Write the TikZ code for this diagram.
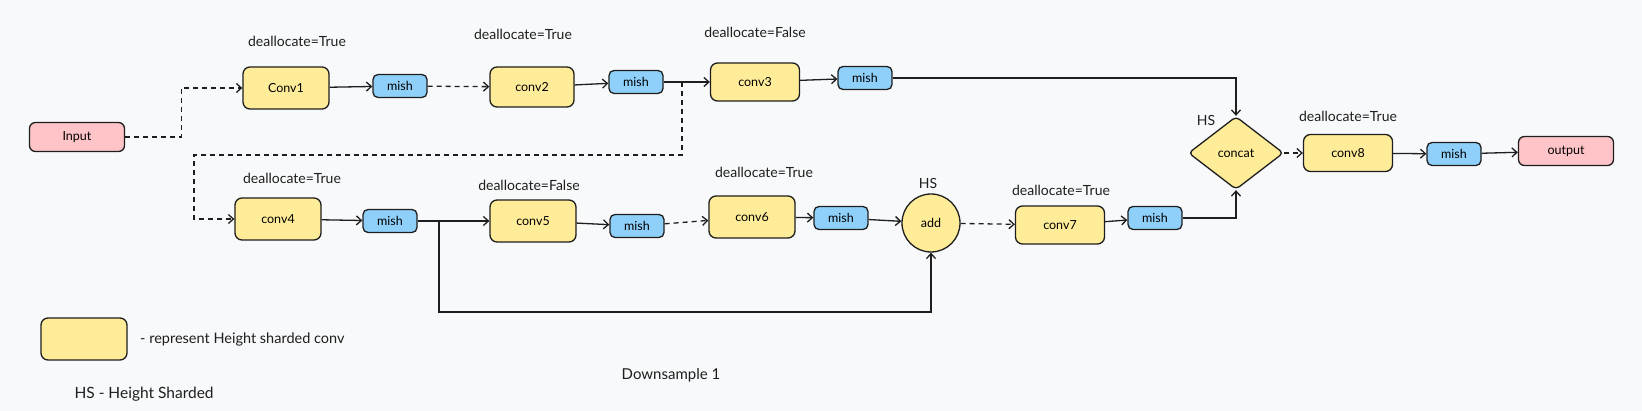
\documentclass[tikz,border=0pt]{standalone}
\usepackage{fontspec}
\setmainfont{Lato}
\usetikzlibrary{positioning}
\usetikzlibrary{shapes.geometric}
\usetikzlibrary{arrows.meta}
\definecolor{convfill}{HTML}{FFEC99}
\definecolor{mishfill}{HTML}{8FD0FA}
\definecolor{iofill}{HTML}{FFC4C8}
\definecolor{ink}{HTML}{1E1E1E}
\definecolor{paper}{HTML}{F8F9FA}

\begin{document}
\begin{tikzpicture}
    [
    x=1pt,y=-1pt,
    font=\fontsize{12.5}{15}\selectfont,
    conv/.style={rectangle,rounded corners=7pt,draw=ink,fill=convfill,line width=1.3pt,minimum width=86pt,minimum height=42pt},
    act/.style={rectangle,rounded corners=5pt,draw=ink,fill=mishfill,line width=1.3pt,minimum width=54pt,minimum height=23pt},
    io/.style={rectangle,rounded corners=6pt,draw=ink,fill=iofill,line width=1.3pt,minimum width=95pt,minimum height=29pt},
    merge/.style={diamond,rounded corners=4pt,draw=ink,fill=convfill,line width=1.3pt,inner sep=0pt,minimum width=95pt,minimum height=73pt},
    sum/.style={circle,draw=ink,fill=convfill,line width=1.3pt,inner sep=0pt,minimum size=58pt},
    note/.style={text=ink,font=\fontsize{14}{16}\selectfont},
    link/.style={draw=ink,line width=1.3pt,-{Straight Barb[length=5pt,width=9pt]}},
    dashlink/.style={link,dash pattern=on 5pt off 4pt},
    ]
    \fill [paper] (0,0) rectangle (1642,411);
    \useasboundingbox (0,0) rectangle (1642,411);

    % top row
    \node (input) at (77,137) [io] {Input};
    \node (conv1) at (286,88) [conv] {Conv1};
    \node (mish1) at (400,86) [act] {mish};
    \node (conv2) at (532,87) [conv,minimum width=84pt,minimum height=40pt] {conv2};
    \node (mish2) at (636,82) [act] {mish};
    \node (conv3) at (755,82) [conv,minimum width=89pt,minimum height=38pt] {conv3};
    \node (mish3) at (865,78) [act] {mish};

    \node (dealloc1) at (297,41) [note] {deallocate=True};
    \node (dealloc2) at (523,34) [note] {deallocate=True};
    \node (dealloc3) at (755,32) [note] {deallocate=False};

    % bottom row
    \node (conv4) at (278,219) [conv] {conv4};
    \node (mish4) at (390,221) [act] {mish};
    \node (conv5) at (533,221) [conv] {conv5};
    \node (mish5) at (637,226) [act] {mish};
    \node (conv6) at (752,217) [conv] {conv6};
    \node (mish6) at (841,218) [act] {mish};
    \node (add) at (931,223) [sum] {add};
    \node (conv7) at (1060,225) [conv,minimum width=89pt,minimum height=38pt] {conv7};
    \node (mish7) at (1155,218) [act] {mish};

    \node (dealloc4) at (292,178) [note] {deallocate=True};
    \node (dealloc5) at (529,185) [note] {deallocate=False};
    \node (dealloc6) at (764,172) [note] {deallocate=True};
    \node (dealloc7) at (1061,190) [note] {deallocate=True};
    \node (hsadd) at (928,183) [note] {HS};

    % tail
    \node (concat) at (1236,153) [merge] {concat};
    \node (conv8) at (1348,153) [conv,minimum width=89pt,minimum height=37pt] {conv8};
    \node (mish8) at (1454,154) [act] {mish};
    \node (output) at (1566,151) [io] {output};

    \node (hsconcat) at (1206,120) [note] {HS};
    \node (dealloc8) at (1348,116) [note] {deallocate=True};

    % legend
    \node (legbox) at (84,339) [conv] {};
    \node (legtext) [note,font=\fontsize{14.5}{17}\selectfont,right=9pt of legbox] {- represent Height sharded conv};
    \node (hsnote) at (71,394) [note,font=\fontsize{15.5}{18}\selectfont,anchor=west] {HS - Height Sharded};
    \node (title) at (671,375) [note,font=\fontsize{15}{18}\selectfont] {Downsample 1};

    \coordinate (split1) at (682,82);
    \coordinate (turn1) at (194,155);
    \coordinate (split2) at (439,221);
    \coordinate (skipbot) at (439,312);

    \draw [dashlink] (input.east) -- ++(56,0) |- (conv1.west);
    \draw [link] (conv1) -- (mish1);
    \draw [dashlink] (mish1) -- (conv2);
    \draw [link] (conv2) -- (mish2);
    \draw [link] (mish2) -- (conv3);
    \draw [link] (conv3) -- (mish3);
    \draw [link] (mish3) -| (concat.north);
    \draw [dashlink] (split1) |- (turn1) |- (conv4.west);

    \draw [link] (conv4) -- (mish4);
    \draw [link] (mish4) -- (conv5);
    \draw [link] (split2) -- (skipbot) -| (add.south);
    \draw [link] (conv5) -- (mish5);
    \draw [dashlink] (mish5) -- (conv6);
    \draw [link] (conv6) -- (mish6);
    \draw [link] (mish6) -- (add);
    \draw [dashlink] (add) -- (conv7);
    \draw [link] (conv7) -- (mish7);
    \draw [link] (mish7) -| (concat.south);

    \draw [dashlink] (concat) -- (conv8);
    \draw [link] (conv8) -- (mish8);
    \draw [link] (mish8) -- (output);
  \end{tikzpicture}
\end{document}
